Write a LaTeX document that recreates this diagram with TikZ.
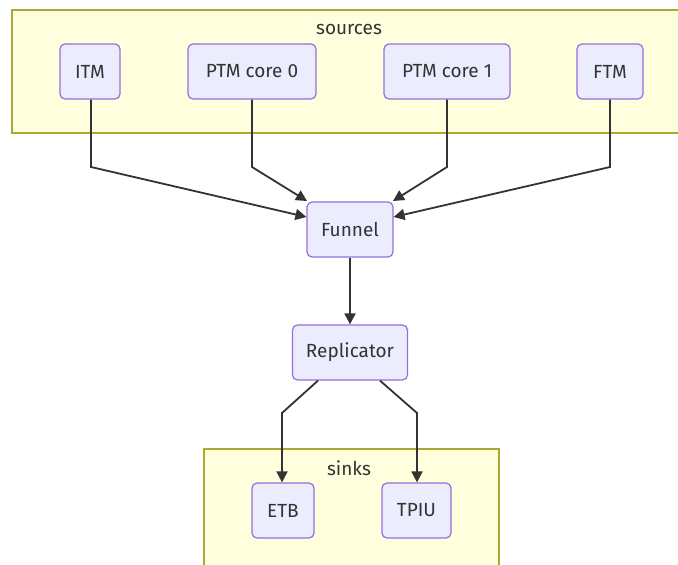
\documentclass[tikz,border=0pt]{standalone}
\usepackage{fontspec}
\setmainfont{Fira Sans}
\usetikzlibrary{arrows.meta}
\definecolor{nodefill}{HTML}{ECECFF}
\definecolor{nodeborder}{HTML}{9370DB}
\definecolor{clusterfill}{HTML}{FFFFDE}
\definecolor{clusterborder}{HTML}{AAAA33}
\definecolor{edgecol}{HTML}{333333}
\begin{document}
\begin{tikzpicture}[x=1pt,y=-1pt,
  box/.style={draw=nodeborder,fill=nodefill,line width=1.2pt,rounded corners=5pt,inner sep=0pt,text=edgecol,font=\fontsize{19}{22}\selectfont},
  cluster/.style={draw=clusterborder,fill=clusterfill,line width=1.2pt},
  lbl/.style={text=edgecol,font=\fontsize{19}{22}\selectfont},
  edge/.style={draw=edgecol,line width=1.8pt,-{Triangle[length=11pt,width=11pt]}}]
\useasboundingbox (0,0) rectangle (678,565);
\fill[white] (0,0) rectangle (678,565);
% clusters
\draw[cluster] (12,10) rectangle (700,133);
\node[lbl] (srclbl) at (349,29) {sources};
\draw[cluster] (204,449) rectangle (499,600);
\node[lbl] (snklbl) at (349,468) {sinks};
% nodes
\node[box,minimum width=60pt,minimum height=55pt] (itm) at (90,71.5) {ITM};
\node[box,minimum width=128pt,minimum height=55pt] (ptm0) at (252,71.5) {PTM core 0};
\node[box,minimum width=126pt,minimum height=55pt] (ptm1) at (447,71.5) {PTM core 1};
\node[box,minimum width=66pt,minimum height=55pt] (ftm) at (610,71.5) {FTM};
\node[box,minimum width=86pt,minimum height=55pt] (funnel) at (350,229.5) {Funnel};
\node[box,minimum width=115pt,minimum height=55pt] (rep) at (350,352.5) {Replicator};
\node[box,minimum width=62pt,minimum height=55pt] (etb) at (283,510.5) {ETB};
\node[box,minimum width=69pt,minimum height=55pt] (tpiu) at (416.5,510.5) {TPIU};
% bend coordinates
\coordinate (c1) at (91,167);
\coordinate (c2) at (252,167);
\coordinate (c3) at (447,167);
\coordinate (c4) at (610,167);
\coordinate (c5) at (282,413);
\coordinate (c6) at (417,413);
% edges
\draw[edge] (itm.south -| c1) -- (c1) -- (funnel.west |- 0,217);
\draw[edge] (ptm0.south) -- (c2) -- (307,201);
\draw[edge] (ptm1.south) -- (c3) -- (393,201);
\draw[edge] (ftm.south) -- (c4) -- (funnel.east |- 0,217);
\draw[edge] (funnel.south) -- (rep.north);
\draw[edge] (rep.south -| 318,0) -- (c5) -- (etb.north -| c5);
\draw[edge] (rep.south -| 380,0) -- (c6) -- (tpiu.north -| c6);
\end{tikzpicture}
\end{document}
